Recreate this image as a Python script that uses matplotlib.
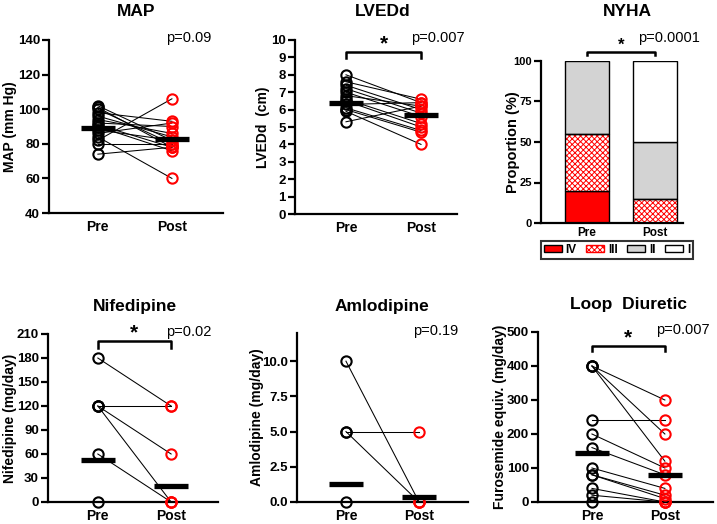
import matplotlib
matplotlib.use('Agg')
import matplotlib.pyplot as plt
from matplotlib.patches import Patch

plt.rcParams['font.family'] = ['Liberation Sans', 'DejaVu Sans']
plt.rcParams['hatch.linewidth'] = 0.7

# --- data ---
map_pre = [102, 101, 100, 98, 96, 94, 92, 91, 90, 88, 86, 84, 82, 80, 74]
map_post = [82, 78, 80, 93, 84, 86, 90, 78, 76, 82, 92, 60, 106, 80, 78]
map_means = [89, 83]

lved_pre = [8.0, 7.6, 7.4, 7.2, 7.0, 6.8, 6.6, 6.5, 6.3, 6.1, 6.0, 5.9, 5.3]
lved_post = [6.4, 6.6, 6.0, 5.8, 5.6, 6.2, 5.2, 5.0, 6.4, 4.8, 4.7, 4.0, 6.2]
lved_means = [6.4, 5.7]

nif_pre = [180, 120, 120, 120, 60, 0]
nif_post = [120, 120, 60, 0, 0, 0]
nif_means = [52, 20]

aml_pre = [10, 5, 5, 0]
aml_post = [0, 5, 0, 0]
aml_means = [1.25, 0.33]

loop_pre = [400, 400, 400, 240, 200, 160, 100, 80, 80, 40, 20, 0]
loop_post = [300, 200, 120, 240, 100, 80, 40, 20, 10, 0, 0, 0]
loop_means = [143, 80]

groups = ['Pre', 'Post']
nyha_classes = ['IV', 'III', 'II', 'I']
nyha_pre = [20, 35, 45, 0]
nyha_post = [0, 15, 35, 50]

fig = plt.figure(figsize=(7.17, 5.24), dpi=100)
W, H = 717, 524


def px_axes(l, t, r, b):
    return fig.add_axes([l / W, 1 - b / H, (r - l) / W, (b - t) / H])


def style(ax, tick_size=9.5):
    for s in ['top', 'right']:
        ax.spines[s].set_visible(False)
    for s in ['left', 'bottom']:
        ax.spines[s].set_linewidth(1.6)
    ax.tick_params(axis='y', direction='out', length=5, width=1.6, labelsize=tick_size, pad=1.5)
    ax.tick_params(axis='x', length=0, labelsize=10, pad=5)
    for lab in ax.get_xticklabels() + ax.get_yticklabels():
        lab.set_fontweight('bold')


def paired(ax, pre, post, means, xlim, ylim, yticks, ylabel, labx, fmt=None):
    for a, b in zip(pre, post):
        ax.plot([0, 1], [a, b], color='black', lw=0.75, zorder=1)
    ax.plot([0] * len(pre), pre, 'o', mfc='none', mec='black', ms=7.4, mew=1.5,
            clip_on=False, zorder=3)
    ax.plot([1] * len(post), post, 'o', mfc='none', mec='#ff0000', ms=7.4, mew=1.5,
            clip_on=False, zorder=3)
    for x, m in zip([0, 1], means):
        ax.plot([x - 0.23, x + 0.23], [m, m], color='black', lw=3.8,
                solid_capstyle='butt', zorder=4)
    ax.set_xlim(*xlim)
    ax.set_ylim(*ylim)
    ax.set_yticks(yticks)
    if fmt:
        ax.set_yticklabels([fmt.format(v) for v in yticks])
    ax.set_xticks([0, 1])
    ax.set_xticklabels(groups)
    ax.set_ylabel(ylabel, fontsize=10, fontweight='bold', va='center')
    ax.yaxis.set_label_coords(labx, 0.5)
    style(ax)


def bracket(ax, y, drop, star_y):
    ax.plot([0, 0, 1, 1], [y - drop, y, y, y - drop], color='black', lw=1.8,
            clip_on=False, zorder=5)
    ax.text(0.5, star_y, '*', ha='center', va='center', fontsize=15,
            fontweight='bold')


def title(x, y, s):
    fig.text(x / W, 1 - y / H, s, ha='center', va='center', fontsize=12.5,
             fontweight='bold')


def pval(x, y, s):
    fig.text(x / W, 1 - y / H, s, ha='left', va='center', fontsize=10.5)


# MAP
ax1 = px_axes(49, 40, 223, 213)
paired(ax1, map_pre, map_post, map_means, (-0.66, 1.69), (40, 140),
       range(40, 141, 20), 'MAP (mm Hg)', -0.224)
title(136, 12, 'MAP')
pval(166, 38, 'p=0.09')

# LVEDd
ax2 = px_axes(295, 40, 457, 214)
paired(ax2, lved_pre, lved_post, lved_means, (-0.68, 1.48), (0, 10),
       range(0, 11), 'LVEDd  (cm)', -0.198)
bracket(ax2, 9.3, 0.35, 9.75)
title(383, 12, 'LVEDd')
pval(411, 38, 'p=0.007')

# NYHA stacked bars
ax3 = px_axes(541, 61, 683, 223)
colors = ['#ff0000', 'white', '#d3d3d3', 'white']
for xi, vals in enumerate([nyha_pre, nyha_post]):
    bottom = 0
    for cls, v, c in zip(nyha_classes, vals, colors):
        if v > 0:
            if cls == 'III':
                ax3.bar(xi, v, 0.65, bottom=bottom, color='white', edgecolor='#ff0000',
                        hatch='xxxxxx', lw=0, zorder=2)
                ax3.bar(xi, v, 0.65, bottom=bottom, color='none', edgecolor='black',
                        lw=1.0, zorder=3)
            else:
                ax3.bar(xi, v, 0.65, bottom=bottom, color=c, edgecolor='black',
                        lw=1.0, zorder=2)
        bottom += v
ax3.set_xlim(-0.68, 1.42)
ax3.set_ylim(0, 100)
ax3.set_yticks([0, 25, 50, 75, 100])
ax3.set_xticks([0, 1])
ax3.set_xticklabels(groups)
ax3.set_ylabel('Proportion (%)', fontsize=10.5, fontweight='bold', va='center')
ax3.yaxis.set_label_coords(-0.197, 0.5)
style(ax3, tick_size=8)
ax3.tick_params(axis='x', labelsize=8.5, pad=3)
ax3.plot([0, 0, 1, 1], [103.7, 105.6, 105.6, 103.7], color='black', lw=1.8,
         clip_on=False)
ax3.text(0.5, 109.5, '*', ha='center', va='center', fontsize=12, fontweight='bold')
title(627, 12, 'NYHA')
pval(638, 38, 'p=0.0001')
handles = [Patch(facecolor='#ff0000', edgecolor='black'),
           Patch(facecolor='white', edgecolor='#ff0000', hatch='xxxxxx'),
           Patch(facecolor='#d3d3d3', edgecolor='black'),
           Patch(facecolor='white', edgecolor='black')]
leg = ax3.legend(handles, nyha_classes, loc='center', bbox_to_anchor=(617 / W, 1 - 250 / H),
                 bbox_transform=fig.transFigure, ncol=4, fancybox=False,
                 edgecolor='black', prop={'size': 8.5, 'weight': 'bold'},
                 handlelength=1.5, handleheight=0.5, columnspacing=0.8,
                 borderpad=0.25, handletextpad=0.35, borderaxespad=0)
leg.get_frame().set_linewidth(1.5)

# Nifedipine
ax4 = px_axes(48, 334, 218, 502)
paired(ax4, nif_pre, nif_post, nif_means, (-0.68, 1.64), (0, 210),
       range(0, 211, 30), 'Nifedipine (mg/day)', -0.224)
bracket(ax4, 201, 8, 211)
title(135, 307, 'Nifedipine')
pval(166, 332, 'p=0.02')

# Amlodipine
ax5 = px_axes(297, 333, 468, 502)
paired(ax5, aml_pre, aml_post, aml_means, (-0.67, 1.67), (0, 12),
       [0, 2.5, 5.0, 7.5, 10.0], 'Amlodipine (mg/day)', -0.234, fmt='{:.1f}')
title(382, 306, 'Amlodipine')
pval(413, 331, 'p=0.19')

# Loop diuretic
ax6 = px_axes(538, 332, 713, 502)
paired(ax6, loop_pre, loop_post, loop_means, (-0.74, 1.66), (0, 500),
       range(0, 501, 100), 'Furosemide equiv. (mg/day)', -0.215)
bracket(ax6, 459, 15, 482)
title(628, 305, 'Loop  Diuretic')
pval(656, 330, 'p=0.007')

fig.savefig('out.png', dpi=100)
